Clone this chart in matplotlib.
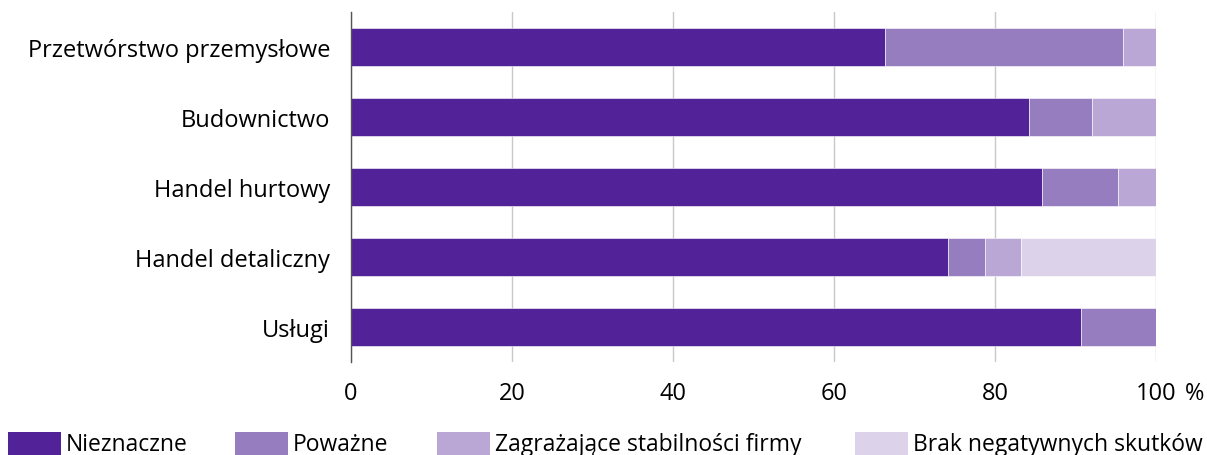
import matplotlib
matplotlib.use("Agg")
import matplotlib.pyplot as plt
from matplotlib.patches import Rectangle

plt.rcParams["font.family"] = ["Open Sans", "DejaVu Sans"]

categories = ["Przetwórstwo przemysłowe", "Budownictwo", "Handel hurtowy",
              "Handel detaliczny", "Usługi"]
series_names = ["Nieznaczne", "Poważne", "Zagrażające stabilności firmy",
                "Brak negatywnych skutków"]
nieznaczne = [66.3, 84.2, 85.8, 74.2, 90.7]
powazne = [29.6, 7.8, 9.5, 4.6, 9.3]
zagrazajace = [4.1, 8.0, 4.7, 4.4, 0.0]
brak = [0.0, 0.0, 0.0, 16.8, 0.0]
colors = ["#522398", "#967dbf", "#baa7d6", "#dcd3ea"]
x_ticks = [0, 20, 40, 60, 80, 100]

W, H = 1207, 456
fig = plt.figure(figsize=(W / 100, H / 100), dpi=100)
ax = fig.add_axes([351 / W, 1 - 363 / H, (1156 - 351) / W, (363 - 13) / H])

y = list(range(len(categories)))
left = [0.0] * len(categories)
for vals, col, name in zip([nieznaczne, powazne, zagrazajace, brak], colors, series_names):
    ax.barh(y, vals, left=left, height=0.53, color=col, edgecolor="white",
            linewidth=0.4, label=name, zorder=2)
    left = [l + v for l, v in zip(left, vals)]

ax.set_xlim(0, 100)
ax.set_ylim(len(categories) - 0.5, -0.5)
ax.set_xticks(x_ticks)
ax.set_xticklabels([str(t) for t in x_ticks], fontsize=17)
ax.set_yticks(y)
ax.set_yticklabels(categories, fontsize=17)
ax.tick_params(axis="both", length=0)
ax.tick_params(axis="x", pad=14)
ax.tick_params(axis="y", pad=15)
ax.xaxis.grid(True, color="#c8c8c8", linewidth=1.0, zorder=0)
ax.set_axisbelow(True)
for s in ["top", "right", "bottom"]:
    ax.spines[s].set_visible(False)
ax.spines["left"].set_color("#555555")
ax.spines["left"].set_linewidth(1.0)
ax.spines["left"].set_zorder(3)

# unit sign next to the last x tick label
fig.canvas.draw()
bb = ax.get_xticklabels()[-1].get_window_extent()
fig.text(1195 / W, (bb.y0 + bb.y1) / 2 / H, "%", fontsize=17, ha="center", va="center")

# legend drawn manually along the bottom edge
patch_x = [8, 235, 437, 855]
for px, col, name in zip(patch_x, colors, series_names):
    fig.add_artist(Rectangle((px / W, 1 - 457 / H), 53 / W, 24 / H,
                             transform=fig.transFigure, color=col, lw=0))
    fig.text((px + 58) / W, 1 - 445 / H, name, fontsize=16.5, ha="left", va="center")

fig.savefig("out.png", dpi=100)
